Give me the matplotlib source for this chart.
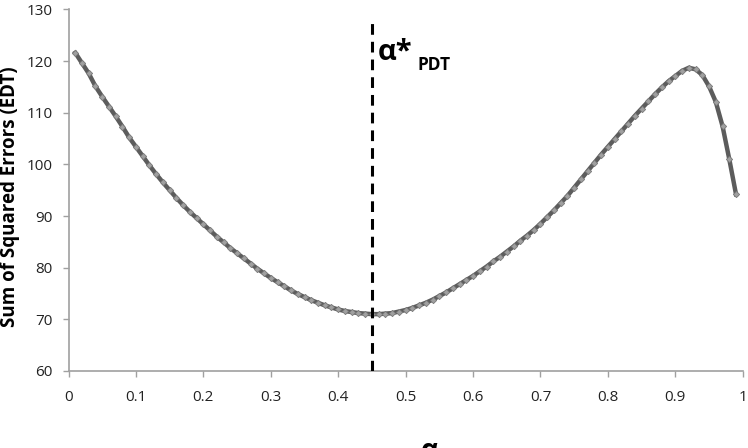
import numpy as np
import matplotlib
matplotlib.use("Agg")
import matplotlib.pyplot as plt

plt.rcParams['font.family'] = ['Open Sans', 'DejaVu Sans']

# alpha values, 0.01 .. 0.99
alpha = [round(0.01 * i, 2) for i in range(1, 100)]

# sum of squared errors
sse = [
    121.6, 119.6, 117.6, 115.1, 113.1, 111.2, 109.3, 107.3, 105.2, 103.4,  # 0.01-0.10
    101.6, 99.8, 98.1, 96.5, 95.0, 93.5, 92.1, 90.8, 89.6, 88.4,           # 0.11-0.20
    87.2, 86.0, 84.9, 83.8, 82.8, 81.8, 80.8, 79.8, 78.9, 78.0,            # 0.21-0.30
    77.2, 76.4, 75.6, 74.9, 74.3, 73.7, 73.2, 72.7, 72.3, 71.9,            # 0.31-0.40
    71.6, 71.4, 71.2, 71.1, 71.0, 71.0, 71.1, 71.2, 71.5, 71.8,            # 0.41-0.50
    72.2, 72.7, 73.2, 73.8, 74.5, 75.2, 76.0, 76.8, 77.6, 78.4,            # 0.51-0.60
    79.3, 80.2, 81.2, 82.1, 83.1, 84.1, 85.2, 86.2, 87.3, 88.5,            # 0.61-0.70
    89.8, 91.1, 92.5, 93.9, 95.5, 97.1, 98.7, 100.3, 101.9, 103.4,         # 0.71-0.80
    104.9, 106.4, 107.9, 109.4, 110.8, 112.2, 113.6, 114.9, 116.1, 117.1,  # 0.81-0.90
    118.1, 118.7, 118.4, 117.3, 115.1, 112.1, 107.4, 101.0, 94.2,          # 0.91-0.99
]

alpha_star = 0.45
xticks = [0, 0.1, 0.2, 0.3, 0.4, 0.5, 0.6, 0.7, 0.8, 0.9, 1]
xtick_labels = ['0', '0.1', '0.2', '0.3', '0.4', '0.5', '0.6', '0.7', '0.8', '0.9', '1']
yticks = [60, 70, 80, 90, 100, 110, 120, 130]

fig = plt.figure(figsize=(7.48, 4.48), dpi=100)
ax = fig.add_axes([0.0916, 0.172, 0.9014, 0.807])

ax.plot(alpha, sse, color='#5c5c5c', lw=3.2, marker='D', markersize=3.2,
        mfc='#a0a0a0', mec='#7a7a7a', mew=0.6, zorder=3)

ax.vlines(alpha_star, 60, 127.5, colors='black', linestyles=(0, (3.5, 2.3)), lw=2.2, zorder=4)

ax.text(0.458, 120.2, 'α*', fontsize=21, fontweight='bold', ha='left', va='baseline')
ax.text(0.517, 118.3, 'PDT', fontsize=12.5, fontweight='bold', ha='left', va='baseline')

ax.set_xlim(0, 1)
ax.set_ylim(60, 130)
ax.set_xticks(xticks)
ax.set_xticklabels(xtick_labels)
ax.set_yticks(yticks)

for s in ['top', 'right']:
    ax.spines[s].set_visible(False)
for s in ['left', 'bottom']:
    ax.spines[s].set_color('#a0a0a0')
    ax.spines[s].set_linewidth(1.2)

ax.tick_params(axis='both', colors='#a0a0a0', labelcolor='#222222', labelsize=11,
               length=4.5, width=1.0, direction='out')
ax.tick_params(axis='y', pad=7)
ax.tick_params(axis='x', pad=9)

fig.text(10 / 748, 1 - 197 / 448, 'Sum of Squared Errors (EDT)', fontsize=13.5,
         fontweight='bold', rotation=90, ha='center', va='center')
fig.text(430 / 748, 1 - 437 / 448, 'α', fontsize=20, fontweight='bold', ha='center', va='top')

fig.savefig('out.png', dpi=100)
